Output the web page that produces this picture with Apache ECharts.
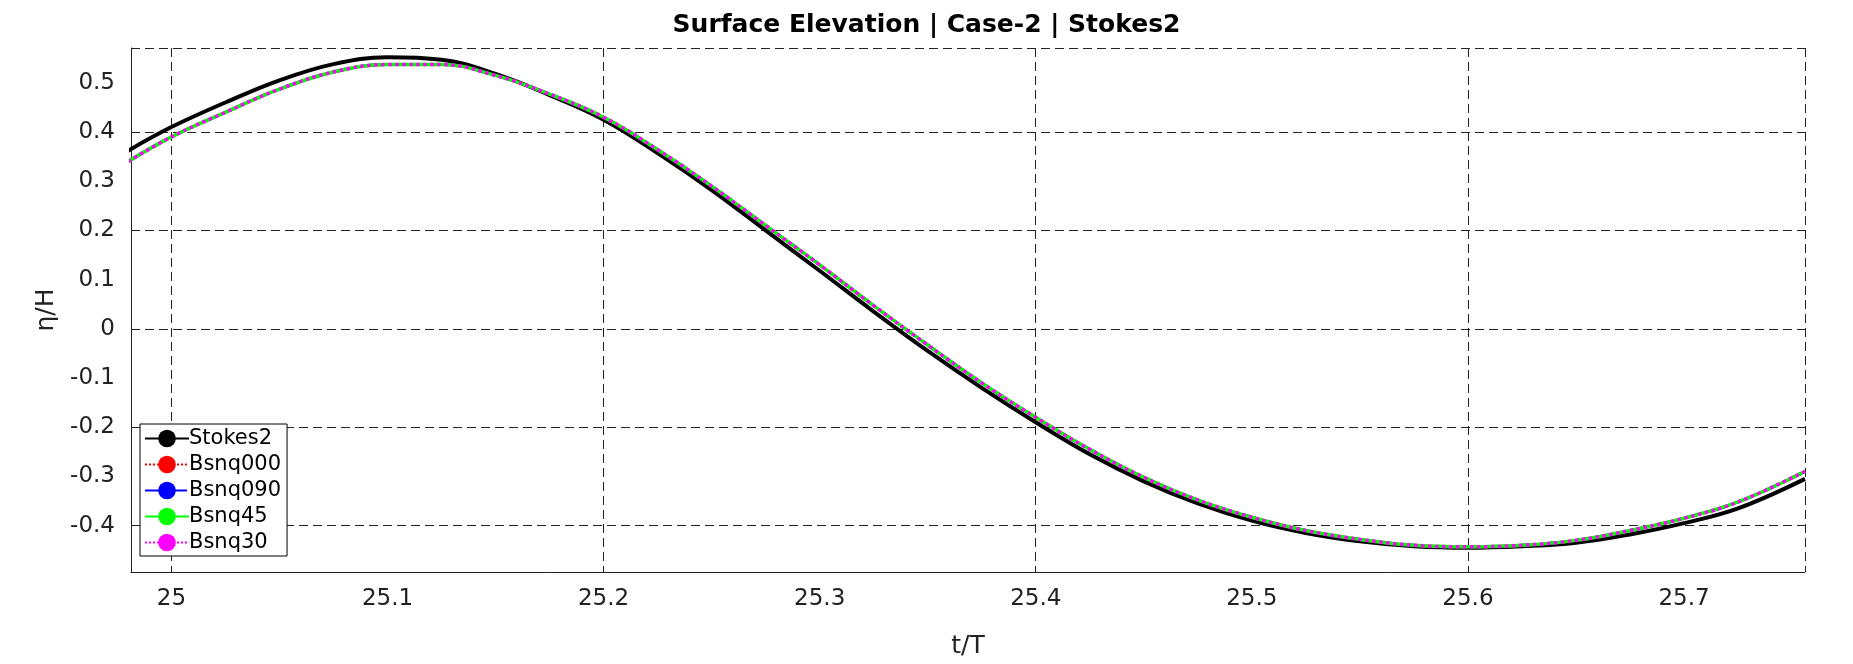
<!DOCTYPE html>
<html><head><meta charset="utf-8">
<script src="https://cdn.jsdelivr.net/npm/echarts@6/dist/echarts.min.js"></script>
<style>html,body{margin:0;padding:0;background:#fff}#c{width:1853px;height:664px}</style>
</head><body><div id="c"></div>
<script>
const tVals=[24.98,25.0,25.025,25.05,25.075,25.1,25.125,25.15,25.175,25.2,25.225,25.25,25.275,25.3,25.325,25.35,25.375,25.4,25.425,25.45,25.475,25.5,25.525,25.55,25.575,25.6,25.625,25.65,25.675,25.7,25.725,25.756];
const stokes2=[0.362,0.41,0.46,0.505,0.538,0.552,0.547,0.518,0.475,0.425,0.357,0.282,0.2,0.118,0.035,-0.045,-0.12,-0.19,-0.255,-0.31,-0.355,-0.39,-0.415,-0.432,-0.442,-0.445,-0.442,-0.435,-0.418,-0.395,-0.365,-0.305];
const bsnq=[0.34,0.39,0.44,0.487,0.522,0.537,0.537,0.515,0.477,0.43,0.364,0.29,0.21,0.13,0.047,-0.033,-0.11,-0.18,-0.245,-0.302,-0.348,-0.383,-0.41,-0.428,-0.44,-0.443,-0.44,-0.43,-0.41,-0.385,-0.352,-0.29];
const xTicks=[25,25.1,25.2,25.3,25.4,25.5,25.6,25.7];
const yTicks=[-0.4,-0.3,-0.2,-0.1,0,0.1,0.2,0.3,0.4,0.5];
const pair=a=>tVals.map((t,i)=>[t,a[i]]);
const F='DejaVu Sans';
const grid={type:[9,5],color:'#222',width:1};
const chart=echarts.init(document.getElementById('c'));
function ser(name,data,color,type,w,z){return{name,type:'line',data:pair(data),symbol:'none',smooth:0.4,z,lineStyle:{color,type,width:w},itemStyle:{color}};}
chart.setOption({
 animation:false,
 title:{text:'Surface Elevation | Case-2 | Stokes2',left:'center',top:8,textStyle:{fontFamily:F,fontWeight:'bold',fontSize:25,color:'#000'}},
 grid:{left:131,right:48,top:48,bottom:80},
 legend:{orient:'vertical',left:140,top:424,itemGap:5,itemWidth:44,itemHeight:22,padding:[4,6,3,4],borderColor:'#000',borderWidth:1,backgroundColor:'#fff',textStyle:{fontFamily:F,fontSize:21,color:'#000',padding:[0,0,0,-5]},
   data:['Stokes2','Bsnq000','Bsnq090','Bsnq45','Bsnq30']},
 xAxis:{type:'value',min:24.9813,max:25.756,name:'t/T',nameLocation:'middle',nameGap:62,nameTextStyle:{fontFamily:F,fontSize:25,color:'#222'},
   axisLine:{onZero:false,lineStyle:{color:'#222'}},axisTick:{show:false},
   axisLabel:{fontFamily:F,fontSize:23,color:'#222',margin:16,customValues:xTicks,formatter:v=>String(+v.toFixed(1))},
   splitLine:{show:true,lineStyle:grid},customValues:xTicks},
 yAxis:{type:'value',min:-0.4943,max:0.5707,name:'η/H',nameLocation:'middle',nameGap:70,nameTextStyle:{fontFamily:F,fontSize:25,color:'#222'},
   axisLine:{show:true,onZero:false,lineStyle:{color:'#222'}},axisTick:{show:false},
   axisLabel:{fontFamily:F,fontSize:23,color:'#222',margin:16,customValues:yTicks,formatter:v=>String(+v.toFixed(1))},
   splitLine:{show:true,lineStyle:grid},customValues:yTicks},
 series:[
  ser('Stokes2',stokes2,'#000','solid',4,5),
  ser('Bsnq000',bsnq,'#ff0000','dotted',3,6),
  ser('Bsnq090',bsnq,'#0000ff',[14,14],3,7),
  ser('Bsnq45',bsnq,'#00ff00','solid',3.5,8),
  ser('Bsnq30',bsnq,'#ff00ff','dotted',3.5,9)
 ]
});
</script></body></html>
